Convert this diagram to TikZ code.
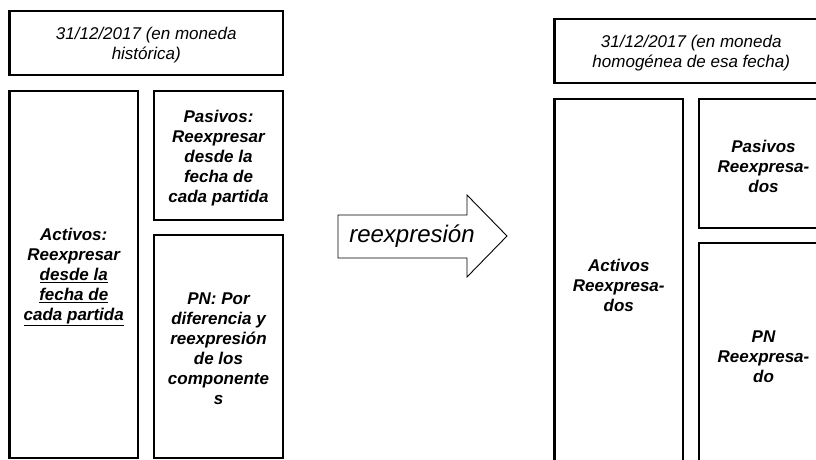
\documentclass[tikz,border=0pt]{standalone}
\usepackage{fontspec}
\setmainfont{Liberation Sans}
\begin{document}
\begin{tikzpicture}[x=1pt,y=-1pt,
  box/.style={draw, line width=2.3pt, inner sep=0pt},
  btxt/.style={inner sep=0pt, align=center, yshift=-2.5pt,
    font=\fontsize{17}{20}\selectfont\bfseries\itshape},
  htxt/.style={btxt, font=\fontsize{17}{20}\selectfont\itshape},
  arrowshape/.style={draw, line width=0.9pt, fill=white},
  arrowlbl/.style={inner sep=0pt, font=\fontsize{24}{26}\selectfont\itshape}]
\clip (0,0) rectangle (816,460);
% left group
\node[box, minimum width=273.5, minimum height=64] (histL) at (146.25,43) {};
\node[htxt] (histLt) at (histL.center) {31/12/2017 (en moneda\\hist\'orica)};
\node[box, minimum width=128.5, minimum height=367] (actL) at (73.75,274.5) {};
\node[btxt] (actLt) at (actL.center) {Activos:\\Reexpresar\\\underline{desde la}\\\underline{fecha de}\\\underline{cada partida}};
\node[box, minimum width=129, minimum height=129] (pasL) at (218.5,155.5) {};
\node[btxt] (pasLt) at (pasL.center) {Pasivos:\\Reexpresar\\desde la\\fecha de\\cada partida};
\node[box, minimum width=129, minimum height=223] (pnL) at (218.5,346.5) {};
\node[btxt] (pnLt) at (pnL.center) {PN: Por\\diferencia y\\reexpresi\'on\\de los\\componente\\s};
% arrow
\coordinate (a1) at (338,215);
\coordinate (a2) at (467,215);
\coordinate (a3) at (467,195);
\coordinate (a4) at (507,236);
\coordinate (a5) at (467,277);
\coordinate (a6) at (467,258);
\coordinate (a7) at (338,258);
\draw[arrowshape] (a1) -- (a2) -- (a3) -- (a4) -- (a5) -- (a6) -- (a7) -- cycle;
\node[arrowlbl] (lbl) at (412,236) {reexpresi\'on};
% right group
\node[box, minimum width=273.5, minimum height=64] (histR) at (691.25,51) {};
\node[htxt] (histRt) at (histR.center) {31/12/2017 (en moneda\\homog\'enea de esa fecha)};
\node[box, minimum width=128.5, minimum height=367] (actR) at (618.75,282.5) {};
\node[btxt] (actRt) at (actR.center) {Activos\\Reexpresa-\\dos};
\node[box, minimum width=129, minimum height=129] (pasR) at (763.5,163.5) {};
\node[btxt] (pasRt) at (pasR.center) {Pasivos\\Reexpresa-\\dos};
\node[box, minimum width=129, minimum height=223] (pnR) at (763.5,354.5) {};
\node[btxt] (pnRt) at (pnR.center) {PN\\Reexpresa-\\do};
\end{tikzpicture}
\end{document}
